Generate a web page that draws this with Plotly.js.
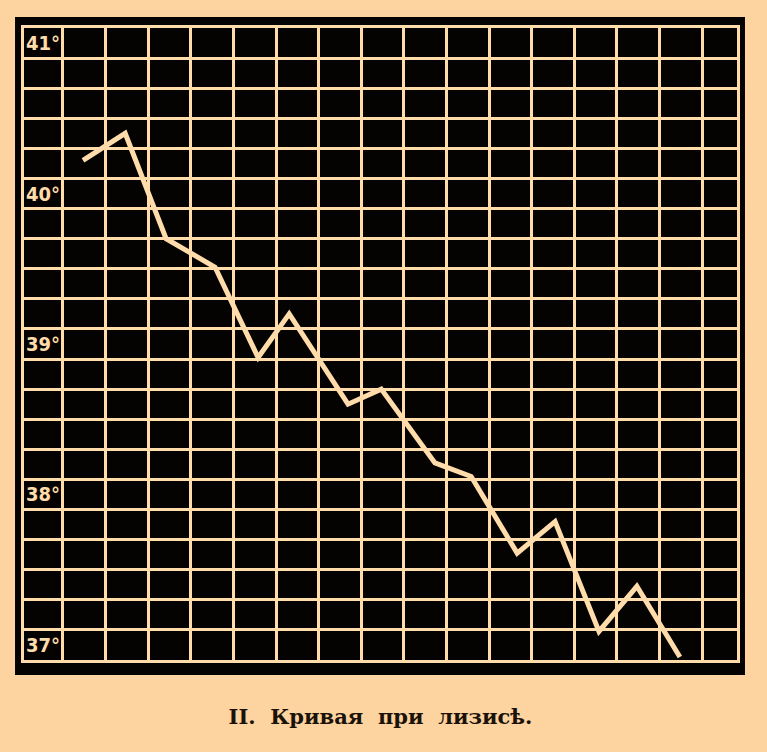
<!DOCTYPE html>
<html>
<head>
<meta charset="utf-8">
<script src="https://cdn.plot.ly/plotly-3.0.1.min.js"></script>
<style>html,body{margin:0;padding:0;background:#fdd3a0;}#chart{width:767px;height:752px;}</style>
</head>
<body>
<div id="chart"></div>
<script>
// Readings (column position along the sheet, temperature in °C)
const positions = [0.47, 1.46, 2.42, 3.57, 4.58, 5.31, 6.69, 7.47, 8.73, 9.58, 10.66, 11.55, 12.58, 13.47, 14.48];
const temperatures = [40.12, 40.30, 39.60, 39.41, 38.81, 39.10, 38.50, 38.60, 38.11, 38.02, 37.51, 37.72, 36.99, 37.29, 36.82];
const degreeValues = [41, 40, 39, 38, 37];
const degreeLabels = ['41°', '40°', '39°', '38°', '37°'];
const titleText = 'II.&nbsp; Кривая&nbsp; при&nbsp; лизисѣ.';

const cream = '#ffdcaa';
const paper = '#fdd3a0';

const annotations = degreeValues.map((v, i) => ({
  x: -0.46, y: v - 0.1, xref: 'x', yref: 'y',
  text: degreeLabels[i], showarrow: false,
  font: {family: 'DejaVu Sans Condensed, DejaVu Sans', size: 20, color: cream, weight: 'bold'},
  xanchor: 'center', yanchor: 'middle'
}));

const trace = {
  x: positions, y: temperatures, type: 'scatter', mode: 'lines',
  line: {color: cream, width: 5, shape: 'linear'},
  hoverinfo: 'skip'
};

const layout = {
  width: 767, height: 752,
  margin: {l: 24, r: 30, t: 28, b: 92},
  paper_bgcolor: paper,
  plot_bgcolor: '#050302',
  showlegend: false,
  title: {
    text: titleText,
    x: 0.5, xanchor: 'center', xref: 'paper',
    y: 1 - 717/752, yanchor: 'middle', yref: 'container',
    font: {family: 'DejaVu Serif', size: 21, color: '#1a1208', weight: 'bold'}
  },
  xaxis: {
    range: [-0.915, 15.82], tick0: 0, dtick: 1,
    showgrid: true, gridcolor: cream, gridwidth: 3,
    zeroline: false, showticklabels: false, ticks: '',
    showline: true, mirror: true, linecolor: cream, linewidth: 3,
    fixedrange: true
  },
  yaxis: {
    range: [36.8, 41.0], tick0: 37, dtick: 0.2,
    showgrid: true, gridcolor: cream, gridwidth: 3,
    zeroline: false, showticklabels: false, ticks: '',
    showline: true, mirror: true, linecolor: cream, linewidth: 3,
    fixedrange: true
  },
  shapes: [{
    type: 'rect', xref: 'paper', yref: 'paper', layer: 'below',
    x0: -0.0126, x1: 1.0112, y0: -0.0237, y1: 1.0174,
    fillcolor: '#050302', line: {width: 0}
  }],
  annotations: annotations
};

Plotly.newPlot('chart', [trace], layout, {staticPlot: true, displayModeBar: false});
</script>
</body>
</html>
